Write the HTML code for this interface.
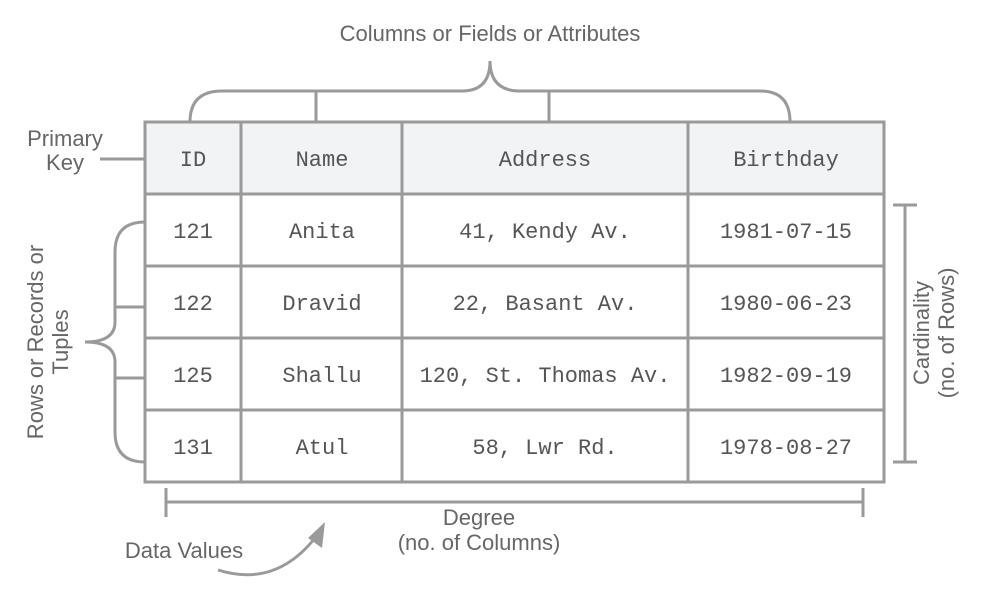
<!DOCTYPE html>
<html><head><style>
body{margin:0;background:#fff;width:987px;height:602px;overflow:hidden}
</style></head><body>
<svg width="987" height="602" xmlns="http://www.w3.org/2000/svg">
<g fill="none" stroke="#9a9a9a" stroke-width="3">
<rect x="145" y="122" width="739" height="72" fill="#f2f3f5" stroke="none"/>
<rect x="145" y="122" width="739" height="360"/>
<line x1="145" y1="194" x2="884" y2="194"/>
<line x1="145" y1="266" x2="884" y2="266"/>
<line x1="145" y1="338" x2="884" y2="338"/>
<line x1="145" y1="410" x2="884" y2="410"/>
<line x1="241" y1="122" x2="241" y2="482"/>
<line x1="402" y1="122" x2="402" y2="482"/>
<line x1="688" y1="122" x2="688" y2="482"/>
<path d="M190 122 Q190 91 222 91 L462 91 Q490 91 490 61 Q490 91 520 91 L760 91 Q790 91 790 122"/>
<line x1="316" y1="91" x2="316" y2="122"/>
<line x1="549" y1="91" x2="549" y2="122"/>
<path d="M145 222 Q115 222 115 252 L115 322 Q115 342 85 342 Q115 342 115 362 L115 432 Q115 462 145 462"/>
<line x1="115" y1="307" x2="145" y2="307"/>
<line x1="115" y1="378" x2="145" y2="378"/>
<line x1="100" y1="159" x2="145" y2="159"/>
<line x1="905" y1="205" x2="905" y2="462"/>
<line x1="893" y1="205" x2="917" y2="205"/>
<line x1="893" y1="462" x2="917" y2="462"/>
<line x1="166" y1="502" x2="863" y2="502"/>
<line x1="166" y1="488" x2="166" y2="517"/>
<line x1="863" y1="488" x2="863" y2="517"/>
<path d="M218 570 Q275 588 315 538"/>
</g>
<polygon points="325,522 322,548 308,538" fill="#9a9a9a"/>
<g font-family="Liberation Mono, monospace" font-size="22" fill="#555" text-anchor="middle">
<text x="193" y="166">ID</text><text x="322" y="166">Name</text><text x="545" y="166">Address</text><text x="786" y="166">Birthday</text>
<text x="193" y="238">121</text><text x="322" y="238">Anita</text><text x="545" y="238">41, Kendy Av.</text><text x="786" y="238">1981-07-15</text>
<text x="193" y="310">122</text><text x="322" y="310">Dravid</text><text x="545" y="310">22, Basant Av.</text><text x="786" y="310">1980-06-23</text>
<text x="193" y="382">125</text><text x="322" y="382">Shallu</text><text x="545" y="382">120, St. Thomas Av.</text><text x="786" y="382">1982-09-19</text>
<text x="193" y="454">131</text><text x="322" y="454">Atul</text><text x="545" y="454">58, Lwr Rd.</text><text x="786" y="454">1978-08-27</text>
</g>
<g font-family="Liberation Sans, sans-serif" font-size="22" fill="#666" text-anchor="middle">
<text x="490" y="41">Columns or Fields or Attributes</text>
<text x="65" y="146">Primary</text><text x="65" y="170">Key</text>
<text x="479" y="525">Degree</text><text x="479" y="550">(no. of Columns)</text>
<text x="184" y="558">Data Values</text>
<text transform="translate(43,342) rotate(-90)">Rows or Records or</text>
<text transform="translate(68,342) rotate(-90)">Tuples</text>
<text transform="translate(929,333) rotate(-90)">Cardinality</text>
<text transform="translate(954,333) rotate(-90)">(no. of Rows)</text>
</g>
</svg>
</body></html>
